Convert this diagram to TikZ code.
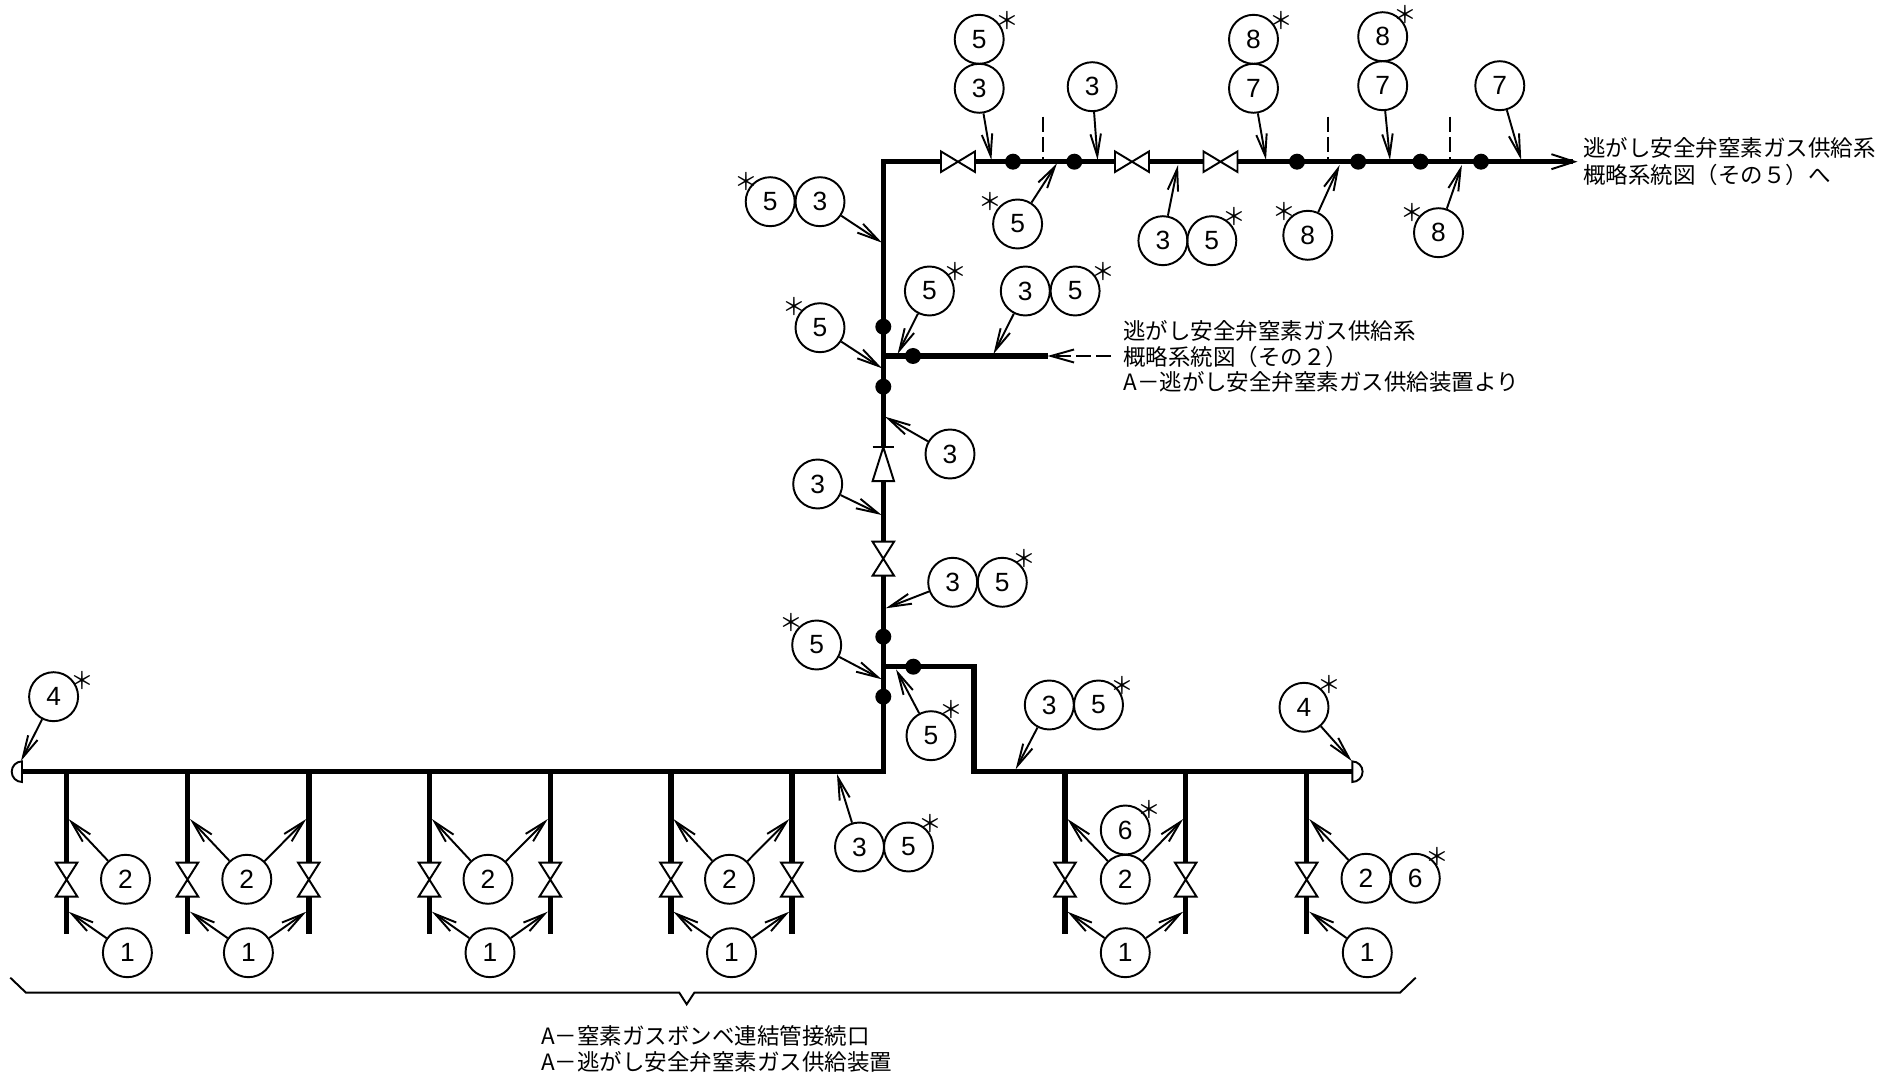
\documentclass[tikz,border=0pt]{standalone}
\usepackage{fontspec}
\setmainfont{Noto Sans CJK JP}
\newfontfamily\numfont{Liberation Sans}
\usetikzlibrary{arrows.meta}

\tikzset{
  thinline/.style={line width=1.1pt},
  pipe/.style={line width=3.1pt},
  leader/.style={thinline, -{Straight Barb[length=4.4mm,width=2.1mm]}},
  bubble/.style={circle, draw, thinline, minimum size=0.98cm, inner sep=0pt, font=\numfont\fontsize{15}{15}\selectfont},
  starmark/.style={inner sep=0pt, font=\fontsize{13.5}{13.5}\selectfont},
  dotmark/.style={circle, fill=black, minimum size=0.32cm, inner sep=0pt},
  valveh/.style={inner sep=0pt, outer sep=0pt, minimum width=0.68cm, minimum height=0.41cm},
  valvev/.style={inner sep=0pt, outer sep=0pt, minimum width=0.43cm, minimum height=0.68cm},
  notetext/.style={anchor=west, inner sep=0pt, align=left},
}

\begin{document}
\begin{tikzpicture}[x=0.02cm, y=-0.02cm]
      \useasboundingbox (0,0) rectangle (1901,1077);

      % pipe corners and ends
      \coordinate (ctop) at (883.3,161.7);
      \coordinate (cbranch) at (883.3,356);
      \coordinate (ctee) at (883.3,666.7);
      \coordinate (cmain) at (883.3,771.7);
      \coordinate (capl) at (22,771.7);
      \coordinate (capr) at (1352.3,771.7);
      \coordinate (tipr) at (1577.5,161.7);
      \coordinate (endbr) at (1047.5,356);
      \coordinate (fromnote) at (1111,356);
      \coordinate (loop1) at (974,666.7);
      \coordinate (loop2) at (974,771.7);

      % valves
      \foreach \x [count=\n] in {958,1132,1220.5} {
        \node[valveh] (vh\n) at (\x,161.7) {};
        \draw[thinline] (vh\n.north west) -- (vh\n.south west) -- (vh\n.north east) -- (vh\n.south east) -- cycle;
      }
      \node[valvev] (vv) at (883.3,558.7) {};
      \draw[thinline] (vv.north west) -- (vv.north east) -- (vv.south west) -- (vv.south east) -- cycle;
      \node[valvev] (chk) at (883.3,464.2) {};
      \draw[thinline] (chk.north) -- (chk.south west) -- (chk.south east) -- cycle;
      \draw[thinline] (chk.north west) -- (chk.north east);

      % main pipes
      \draw[pipe, -{Straight Barb[length=4.6mm,width=3mm,line width=1.1pt]}] (capl) -- (cmain) -- (vv) -- (chk) -- (ctop) -- (vh1) -- (vh2) -- (vh3) -- (tipr);
      \draw[pipe] (cbranch) -- (endbr);
      \draw[pipe] (ctee) -- (loop1) -- (loop2) -- (capr);

      % caps
      \draw[thinline] (22,761.4) arc[start angle=270, end angle=90, radius=10.3] -- cycle;
      \draw[thinline] (1352.3,761.4) arc[start angle=270, end angle=450, radius=10.3] -- cycle;

      % branch legs
      \foreach \x [count=\n] in {66.6,187.5,308.8,429.4,550.3,670.9,791.8,1065,1185.7,1306.7} {
        \coordinate (lt\n) at (\x,771.7);
        \coordinate (lb\n) at (\x,934.3);
        \node[valvev] (lv\n) at (\x,879.6) {};
        \draw[pipe] (lt\n) -- (lv\n) -- (lb\n);
        \draw[thinline] (lv\n.north west) -- (lv\n.north east) -- (lv\n.south west) -- (lv\n.south east) -- cycle;
      }

      % weld dots
      \foreach \x [count=\n] in {1013,1074.3,1297,1358.2,1420.5,1481} {
        \node[dotmark] (dt\n) at (\x,161.7) {};
      }
      \foreach \x/\y [count=\n] in {883.3/326.7,883.3/386.7,913/356,883.3/636.7,883.3/696.7,913.3/666.7} {
        \node[dotmark] (dv\n) at (\x,\y) {};
      }

      % dashed ticks
      \foreach \x in {1043.3,1328,1450.4} {
        \draw[thinline, dash pattern=on 8.5pt off 3pt] (\x,116.7) -- (\x,160);
      }
      \draw[thinline, dash pattern=on 8.5pt off 3pt, -{Straight Barb[length=4.6mm,width=2.6mm]}] (fromnote) -- (endbr);

      % numbered bubbles
      \foreach \b/\x/\y/\t in {
          ta/979.2/39.3/5, tb/979.2/88.3/3, tc/1092.2/86.7/3,
          td/1253.5/39.3/8, te/1253.5/88.3/7, tf/1382.7/36.7/8, tg/1382.7/85.7/7, th/1499.8/85.7/7,
          ma/770.2/201.7/5, mb/820/201.7/3, mc/1017.6/224/5,
          md/1162.9/240.7/3, me/1211.8/240.7/5, mf/1307.8/235.3/8, mg/1438.5/232.7/8,
          na/929.4/291/5, nb/1025.3/291/3, nc/1075.1/291/5, nd/820/327.7/5,
          pa/950/454/3, pb/817.7/484/3, pc/952.7/582.3/3, pd/1002.3/582.3/5,
          pe/816.7/645/5, pf/931/735.7/5, pg/1049.3/705/3, ph/1098.5/705/5,
          qa/53.6/696.7/4, qb/1304/707.3/4, qc/859.5/847/3, qd/908.5/847/5, qe/1125.3/830/6,
          ra/125.5/879.3/2, rb/246.8/879.3/2, rc/488/879.3/2, rd/729.5/879.3/2, re/1125.3/879.3/2,
          rf/1366/878.3/2, rg/1415.3/878.3/6,
          sa/127.4/952.7/1, sb/248.4/952.7/1, sc/490/952.7/1, sd/731.5/952.7/1, se/1125.3/952.7/1, sf/1367.3/952.7/1
        } {
        \node[bubble] (\b) at (\x,\y) {\t};
      }

      % asterisks
      \foreach \x/\y [count=\n] in {
          1007/20.7, 1281/20.7, 1405/14, 746.5/181.7, 990.6/201.7, 1234.3/216, 1284/211.7, 1412/212,
          955.5/271.7, 1102.9/271.7, 794.3/306.7, 1024/558.3, 791.7/622.7, 951/709.3, 1122.3/685,
          82.3/680.7, 1329.3/684, 1149/809, 1437.3/856, 930.5/823
        } {
        \node[starmark] (st\n) at (\x,\y) {＊};
      }

      % leaders
      \foreach \b/\x/\y [count=\n] in {
          tb/991.4/160, tc/1097.6/160, te/1266/160, tg/1390/160, th/1521.2/160,
          mb/882/242.7, mc/1057/163.3, md/1178/165, mf/1339.6/165, mg/1461.9/165,
          na/897.6/354, nb/993.5/354, nd/882/368.3,
          pa/885/416.7, pb/881.7/515, pc/885.7/608.3, pe/881.7/679.3, pf/896/669.3, pg/1015.7/769.3,
          qa/21/761, qb/1351.7/761, qc/837/774,
          ra/68.6/819, rb/190/819, rb/306.3/819, rc/431.9/819, rc/547.8/819, rd/673.4/819, rd/789.3/819,
          re/1067.5/819, re/1183.2/819, rf/1309.2/819,
          sa/68.6/911.7, sb/190/911.7, sb/306.3/911.7, sc/431.9/911.7, sc/547.8/911.7, sd/673.4/911.7, sd/789.3/911.7,
          se/1067.5/911.7, se/1183.2/911.7, sf/1309.2/911.7
        } {
        \coordinate (lp\n) at (\x,\y);
        \draw[leader] (\b) -- (lp\n);
      }

      % bottom brace
      \draw[thinline] (10.3,977.7) -- (26,992.7) -- (679.3,992.7) -- (686.7,1004.3) -- (694.3,992.7) -- (1400,992.7) -- (1415.7,977.7);

      % notes
      \node[notetext, font=\fontsize{12.8}{15.3}\selectfont] (noteout) at (1583,161.5) {逃がし安全弁窒素ガス供給系\\概略系統図（その５）へ};
      \node[notetext, font=\fontsize{12.8}{14.5}\selectfont] (notein) at (1123,356.5) {逃がし安全弁窒素ガス供給系\\概略系統図（その２）\\A－逃がし安全弁窒素ガス供給装置より};
      \node[notetext, font=\fontsize{12.8}{14.3}\selectfont] (notebot) at (540.7,1049) {A－窒素ガスボンベ連結管接続口\\A－逃がし安全弁窒素ガス供給装置};

    \end{tikzpicture}
\end{document}
